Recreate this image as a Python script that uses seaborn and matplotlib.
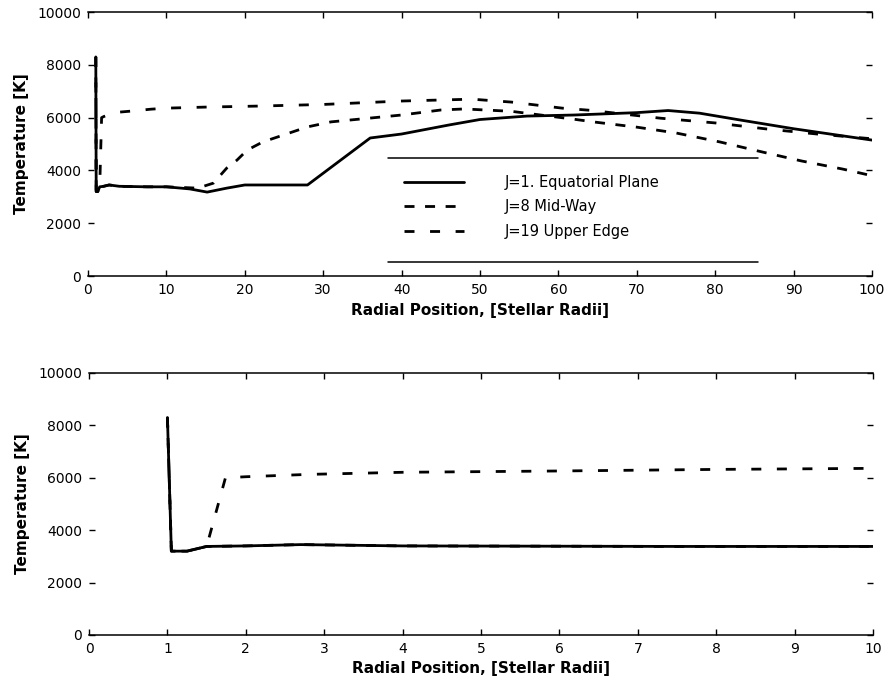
import numpy as np
import pandas as pd
import matplotlib
matplotlib.use("Agg")
import matplotlib.pyplot as plt
import seaborn as sns

# radial position [stellar radii] and temperature [K] for the three grid rows
r_j1 = [1.0, 1.05, 1.25, 1.5, 2.0, 2.7, 4.0, 7.5, 10, 13, 15.2, 17.7, 20, 28,
        36, 40, 46, 50, 56, 62, 70, 74, 78, 83, 90, 100]
t_j1 = [8300, 3200, 3200, 3380, 3400, 3450, 3400, 3380, 3380, 3300, 3180, 3330,
        3450, 3450, 5230, 5380, 5720, 5930, 6060, 6100, 6190, 6270, 6170, 5920,
        5580, 5150]

r_j8 = [1.0, 1.05, 1.25, 1.5, 2.0, 2.7, 4.0, 7.5, 10, 14, 16, 17.7, 19, 20.3,
        22.3, 28, 31, 40, 45, 48, 54, 62, 64.7, 70, 75, 80.6, 86, 91, 96.3, 100]
t_j8 = [8300, 3200, 3200, 3380, 3400, 3450, 3400, 3380, 3380, 3330, 3520, 4090,
        4390, 4770, 5080, 5650, 5840, 6100, 6290, 6330, 6240, 5940, 5830, 5640,
        5420, 5080, 4700, 4360, 4050, 3800]

r_j19 = [1.0, 1.05, 1.25, 1.5, 1.74, 2.0, 2.8, 4.0, 6.0, 8.0, 10, 15, 22, 30,
         40, 49, 54, 60.5, 64, 73, 80, 86.6, 93, 100]
t_j19 = [8300, 3200, 3200, 3380, 6000, 6040, 6130, 6210, 6260, 6320, 6360, 6400,
         6440, 6500, 6630, 6700, 6590, 6360, 6280, 5980, 5800, 5570, 5380, 5200]

labels = ["J=1. Equatorial Plane", "J=8 Mid-Way", "J=19 Upper Edge"]
y_ticks = [0, 2000, 4000, 6000, 8000, 10000]

series = [(r_j1, t_j1, labels[0], "-"),
          (r_j8, t_j8, labels[1], (0, (3.6, 3.8))),
          (r_j19, t_j19, labels[2], (0, (3.6, 5.6)))]

sns.set_style("ticks")
plt.rcParams["font.family"] = ["DejaVu Sans"]
plt.rcParams["text.color"] = "black"
plt.rcParams["axes.labelcolor"] = "black"

fig = plt.figure(figsize=(8.93, 6.85), dpi=100)
ax_top = fig.add_axes([0.0985, 0.597, 0.878, 0.3854])
ax_bot = fig.add_axes([0.0997, 0.073, 0.878, 0.3825])


def draw_panel(ax, xmax, xstep):
    for r, t, name, ls in series:
        df = pd.DataFrame({"r": r, "T": t})
        sns.lineplot(data=df, x="r", y="T", ax=ax, color="black", lw=2.0,
                     linestyle=ls, label=name, estimator=None, sort=False)
    ax.set_xlim(0, xmax)
    ax.set_ylim(0, 10000)
    ax.set_xticks(np.arange(0, xmax + xstep / 2, xstep))
    ax.set_yticks(y_ticks)
    ax.set_yticklabels([str(v) for v in y_ticks])
    for side in ["left", "right"]:
        ax.spines[side].set_visible(False)
    for side in ["top", "bottom"]:
        ax.spines[side].set_linewidth(1.1)
        ax.spines[side].set_color("black")
    ax.tick_params(direction="in", length=4, width=1, top=True, right=True,
                   labelsize=10, colors="black", pad=5)
    ax.set_xlabel("Radial Position, [Stellar Radii]", fontsize=11,
                  fontweight="bold", labelpad=4, color="black")
    ax.set_ylabel("Temperature [K]", fontsize=11, fontweight="bold",
                  labelpad=6, color="black")


draw_panel(ax_top, 100, 10)
draw_panel(ax_bot, 10, 1)

ax_bot.get_legend().remove()
handles, names = ax_top.get_legend_handles_labels()
leg = ax_top.legend(handles, names, loc="upper left",
                    bbox_to_anchor=(0.403, 0.384), frameon=False,
                    fontsize=10.5, handlelength=4.1, handletextpad=2.8,
                    labelspacing=0.65, borderpad=0, borderaxespad=0)
for txt in leg.get_texts():
    txt.set_color("black")

# legend box only has its top and bottom rules
for yy in [0.447, 0.053]:
    ax_top.plot([0.383, 0.855], [yy, yy], transform=ax_top.transAxes,
                color="black", lw=1.1, clip_on=False)

fig.savefig("out.png", dpi=100)
